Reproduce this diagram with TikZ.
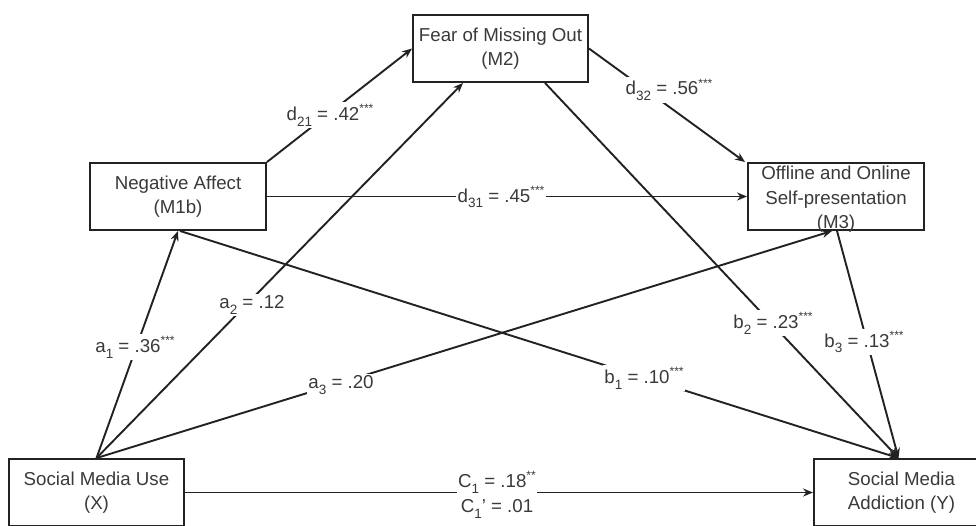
\documentclass[tikz,border=0pt]{standalone}
\usepackage{fontspec}
\setmainfont{Liberation Sans}
\usetikzlibrary{arrows.meta}
\newcommand\mysub[1]{\raisebox{-0.32em}{\fontsize{13.5}{14}\selectfont #1}}
\newcommand\mystars[1]{\raisebox{0.42em}{\fontsize{12}{12}\selectfont #1}}
\definecolor{txt}{HTML}{3A3A3A}
\definecolor{ln}{HTML}{222222}
\tikzset{
  box/.style={draw=ln, line width=1.9pt, rectangle, minimum width=175pt, minimum height=67pt,
    inner xsep=0pt, inner ysep=0pt, align=center, text=txt,
    font=\fontsize{18.7}{24.5}\selectfont},
  boxtext/.style={inner sep=0pt, align=center, text=txt,
    font=\fontsize{18.7}{24.5}\selectfont},
  conn/.style={draw=ln, line width=1.9pt},
  arr/.style={conn, -{Stealth[length=10pt,width=8pt]}},
  lab/.style={fill=white, inner sep=1.5pt, text=txt, align=center,
    font=\fontsize{18.7}{25}\selectfont}
}
\begin{document}
\begin{tikzpicture}[x=1pt,y=-1pt]
\useasboundingbox (0,0) rectangle (976,525);
\clip (0,0) rectangle (976,525);
\fill[white] (0,0) rectangle (976,525);

\node[box] (M2) at (500.5,48.5) {Fear of Missing Out\\(M2)};
\node[box, minimum width=176pt] (M1) at (178,196.5) {Negative Affect\\(M1b)};
\node[box, minimum width=176pt] (M3) at (836,196.5) {};
\node[boxtext] (M3t) at (836,199.5) {Offline and Online\\Self-presentation\\(M3)};
\node[box] (X) at (96.5,492.5) {Social Media Use\\(X)};
\node[box] (Y) at (901.5,492.5) {Social Media\\Addiction (Y)};

% a paths
\draw[arr] (X.north) -- (M1.south);
\draw[arr] (X.north) -- ([xshift=-37.5pt]M2.south);
\draw[arr] (X.north) -- ([xshift=-4pt]M3.south);
% c path
\draw[arr] (X.east) -- (Y.west);
% d paths
\draw[arr] (M1.north east) -- (M2.west);
\draw[arr] (M1.east) -- (M3.west);
\draw[arr] (M2.east) -- ([xshift=-2pt]M3.north west);
% b paths
\draw[arr] ([xshift=2pt]M1.south) -- ([xshift=-3pt]Y.north);
\draw[arr] ([xshift=44.5pt]M2.south) -- ([xshift=-3pt]Y.north);
\draw[arr] ([xshift=1pt]M3.south) -- ([xshift=-3pt]Y.north);

% labels
\node[lab] (la1) at (135,347) {a\mysub{1} = .36\mystars{***}};
\node[lab] (la2) at (252,305) {a\mysub{2} = .12};
\node[lab] (la3) at (341,385) {a\mysub{3} = .20};
\node[lab] (ld21) at (330,115) {d\mysub{21} = .42\mystars{***}};
\node[lab] (ld31) at (501,197) {d\mysub{31} = .45\mystars{***}};
\node[lab] (ld32) at (669,90) {d\mysub{32} = .56\mystars{***}};
\node[lab] (lb1) at (644,378) {b\mysub{1} = .10\mystars{***}};
\node[lab] (lb2) at (773,323) {b\mysub{2} = .23\mystars{***}};
\node[lab] (lb3) at (864,342) {b\mysub{3} = .13\mystars{***}};
\node[lab] (lc) at (497,495) {C\mysub{1} = .18\mystars{**}\\C\mysub{1}' = .01};
\end{tikzpicture}
\end{document}
